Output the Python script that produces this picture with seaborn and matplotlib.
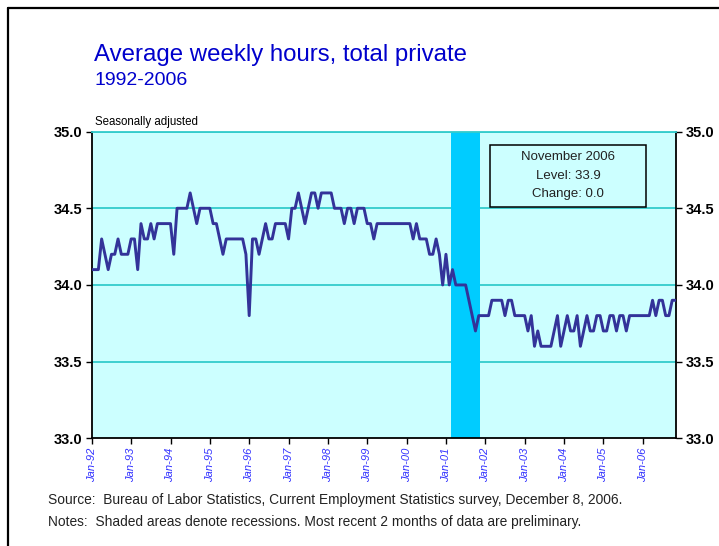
import numpy as np
import pandas as pd
import matplotlib
matplotlib.use("Agg")
import matplotlib.pyplot as plt
from matplotlib.lines import Line2D
from matplotlib.patches import Rectangle
import seaborn as sns

# ---------------- data (monthly, Jan 1992 - Nov 2006) ----------------
hours_1992 = [34.1, 34.1, 34.1, 34.3, 34.2, 34.1, 34.2, 34.2, 34.3, 34.2, 34.2, 34.2]
hours_1993 = [34.3, 34.3, 34.1, 34.4, 34.3, 34.3, 34.4, 34.3, 34.4, 34.4, 34.4, 34.4]
hours_1994 = [34.4, 34.2, 34.5, 34.5, 34.5, 34.5, 34.6, 34.5, 34.4, 34.5, 34.5, 34.5]
hours_1995 = [34.5, 34.4, 34.4, 34.3, 34.2, 34.3, 34.3, 34.3, 34.3, 34.3, 34.3, 34.2]
hours_1996 = [33.8, 34.3, 34.3, 34.2, 34.3, 34.4, 34.3, 34.3, 34.4, 34.4, 34.4, 34.4]
hours_1997 = [34.3, 34.5, 34.5, 34.6, 34.5, 34.4, 34.5, 34.6, 34.6, 34.5, 34.6, 34.6]
hours_1998 = [34.6, 34.6, 34.5, 34.5, 34.5, 34.4, 34.5, 34.5, 34.4, 34.5, 34.5, 34.5]
hours_1999 = [34.4, 34.4, 34.3, 34.4, 34.4, 34.4, 34.4, 34.4, 34.4, 34.4, 34.4, 34.4]
hours_2000 = [34.4, 34.4, 34.3, 34.4, 34.3, 34.3, 34.3, 34.2, 34.2, 34.3, 34.2, 34.0]
hours_2001 = [34.2, 34.0, 34.1, 34.0, 34.0, 34.0, 34.0, 33.9, 33.8, 33.7, 33.8, 33.8]
hours_2002 = [33.8, 33.8, 33.9, 33.9, 33.9, 33.9, 33.8, 33.9, 33.9, 33.8, 33.8, 33.8]
hours_2003 = [33.8, 33.7, 33.8, 33.6, 33.7, 33.6, 33.6, 33.6, 33.6, 33.7, 33.8, 33.6]
hours_2004 = [33.7, 33.8, 33.7, 33.7, 33.8, 33.6, 33.7, 33.8, 33.7, 33.7, 33.8, 33.8]
hours_2005 = [33.7, 33.7, 33.8, 33.8, 33.7, 33.8, 33.8, 33.7, 33.8, 33.8, 33.8, 33.8]
hours_2006 = [33.8, 33.8, 33.8, 33.9, 33.8, 33.9, 33.9, 33.8, 33.8, 33.9, 33.9]

tick_labels = ["Jan-92", "Jan-93", "Jan-94", "Jan-95", "Jan-96", "Jan-97", "Jan-98",
               "Jan-99", "Jan-00", "Jan-01", "Jan-02", "Jan-03", "Jan-04", "Jan-05", "Jan-06"]
y_ticks = [33.0, 33.5, 34.0, 34.5, 35.0]
recession_start = "2001-03"
recession_end = "2001-11"
latest_label = "November 2006"

hours = (hours_1992 + hours_1993 + hours_1994 + hours_1995 + hours_1996 + hours_1997 +
         hours_1998 + hours_1999 + hours_2000 + hours_2001 + hours_2002 + hours_2003 +
         hours_2004 + hours_2005 + hours_2006)
periods = pd.period_range("1992-01", periods=len(hours), freq="M")
df = pd.DataFrame({"month": np.arange(len(hours)), "hours": hours})
rec_s = periods.get_loc(pd.Period(recession_start, "M"))
rec_e = periods.get_loc(pd.Period(recession_end, "M"))

# ---------------- styling ----------------
sns.set_theme(style="white")
plt.rcParams["font.family"] = ["Liberation Sans", "DejaVu Sans"]

W, H = 719, 546
fig = plt.figure(figsize=(W / 100, H / 100), dpi=100)
fig.patch.set_facecolor("white")

L, R, T, B = 91.8, 675.5, 131.6, 438.3
ax = fig.add_axes([L / W, 1 - B / H, (R - L) / W, (B - T) / H])
ax.set_facecolor("#CCFFFF")

ax.set_axisbelow(True)
for v in y_ticks[1:]:
    ax.axhline(v, color="#33CCCC", lw=1.3, zorder=0.5)

ax.axvspan(rec_s - 0.5, rec_e + 0.5, color="#00CCFF", lw=0, zorder=1)

sns.lineplot(data=df, x="month", y="hours", ax=ax, color="#333399", lw=2.1, zorder=3)

ax.set_xlim(0, len(hours) - 1)
ax.set_ylim(y_ticks[0], y_ticks[-1])
ax.set_xlabel("")
ax.set_ylabel("")

ax.set_xticks(np.arange(0, len(hours), 12)[:len(tick_labels)])
ax.set_xticklabels(tick_labels, rotation=90, color="#3333FF", fontsize=8,
                   style="italic", va="top", ha="center")
ax.set_yticks(y_ticks)
ax.set_yticklabels([f"{v:.1f}" for v in y_ticks], fontsize=10.5, fontweight="bold",
                   color="black")
ax.tick_params(axis="y", which="both", left=True, right=True, labelleft=True,
               labelright=True, direction="out", length=4, width=1, pad=3,
               color="black")
ax.tick_params(axis="x", bottom=True, direction="out", length=4, width=1, pad=3,
               color="black")

for side in ["left", "bottom", "right"]:
    ax.spines[side].set_visible(True)
    ax.spines[side].set_color("black")
    ax.spines[side].set_linewidth(1.3)
ax.spines["top"].set_visible(True)
ax.spines["top"].set_color("#33CCCC")
ax.spines["top"].set_linewidth(1.3)

# ---------------- text ----------------
fig.text(94 / W, 1 - 61 / H, "Average weekly hours, total private", color="#0000CC",
         fontsize=17.3, va="baseline", ha="left")
fig.text(94 / W, 1 - 85 / H, "1992-2006", color="#0000CC", fontsize=14,
         va="baseline", ha="left")
fig.text(95 / W, 1 - 125 / H, "Seasonally adjusted", color="black", fontsize=8.3,
         va="baseline", ha="left")

fig.text(48 / W, 1 - 504 / H,
         "Source:  Bureau of Labor Statistics, Current Employment Statistics survey, December 8, 2006.",
         color="#222222", fontsize=9.9, va="baseline", ha="left")
fig.text(48 / W, 1 - 526 / H,
         "Notes:  Shaded areas denote recessions. Most recent 2 months of data are preliminary.",
         color="#222222", fontsize=9.9, va="baseline", ha="left")

# info box
bx0, by0, bx1, by1 = 490, 145, 646, 207
fig.add_artist(Rectangle((bx0 / W, 1 - by1 / H), (bx1 - bx0) / W, (by1 - by0) / H,
                         transform=fig.transFigure, fill=False, ec="black", lw=1.1,
                         zorder=5))
level = hours[-1]
change = round(hours[-1] - hours[-2], 1) + 0.0
cx = (bx0 + bx1) / 2 / W
for txt, yy in [(latest_label, 157), (f"Level: {level:.1f}", 176),
                (f"Change: {change:.1f}", 194)]:
    fig.text(cx, 1 - yy / H, txt, ha="center", va="center", fontsize=9.5,
             color="#222222", zorder=6)

# page frame (left and top edges)
fig.add_artist(Line2D([8 / W, 8 / W], [0, 1 - 8 / H], transform=fig.transFigure,
                      color="black", lw=1.6))
fig.add_artist(Line2D([8 / W, 1], [1 - 8 / H, 1 - 8 / H], transform=fig.transFigure,
                      color="black", lw=1.6))

fig.savefig("out.png", dpi=100)
